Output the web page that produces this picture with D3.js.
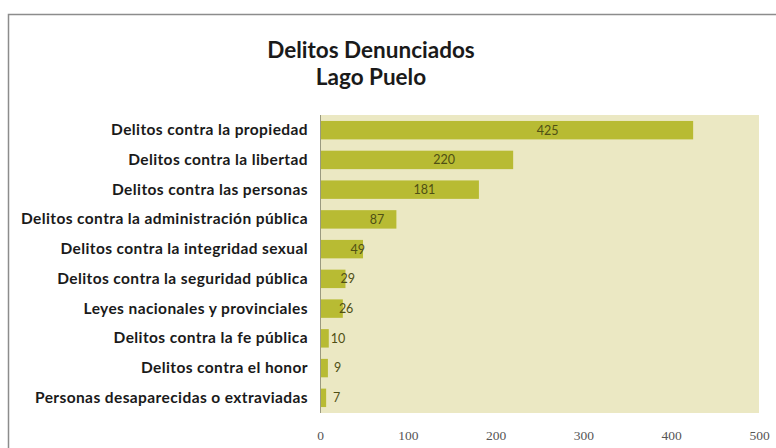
<!DOCTYPE html>
<html>
<head>
<meta charset="utf-8">
<script src="https://cdn.jsdelivr.net/npm/d3@7"></script>
<style>
  body { margin: 0; background: #fff; }
</style>
</head>
<body>
<div class="chart"></div>
<script>
const categories = [
    "Delitos contra la propiedad",
    "Delitos contra la libertad",
    "Delitos contra las personas",
    "Delitos contra la administración pública",
    "Delitos contra la integridad sexual",
    "Delitos contra la seguridad pública",
    "Leyes nacionales y provinciales",
    "Delitos contra la fe pública",
    "Delitos contra el honor",
    "Personas desaparecidas o extraviadas"
];
const values = [425, 220, 181, 87, 49, 29, 26, 10, 9, 7];
const xTicks = [0, 100, 200, 300, 400, 500];
const titleLines = ["Delitos Denunciados", "Lago Puelo"];

const width = 776, height = 448;
const plot = { left: 320, right: 759, top: 115, bottom: 413 };

let svg = d3.select(".chart").append("svg")
    .attr("width", width)
    .attr("height", height);

// chart border
svg.append("rect")
    .attr("x", 8.5).attr("y", 14.5)
    .attr("width", width + 10).attr("height", height + 10)
    .attr("fill", "#fff")
    .attr("stroke", "#8c8c8c")
    .attr("stroke-width", 1.5);

let x = d3.scaleLinear().domain([0, 500]).range([plot.left, plot.right]);
let y = d3.scaleBand().domain(categories).range([plot.top, plot.bottom]).paddingInner(0.38).paddingOuter(0.2);

// plot background
svg.append("rect")
    .attr("x", plot.left).attr("y", plot.top)
    .attr("width", plot.right - plot.left).attr("height", plot.bottom - plot.top)
    .attr("fill", "#ebe8c3");

// title
svg.append("g").selectAll("text").data(titleLines).enter()
    .append("text")
        .attr("x", 371)
        .attr("y", function (d, i) { return 58 + i * 27; })
        .attr("text-anchor", "middle")
        .attr("font-family", "Lato, 'Open Sans', sans-serif")
        .attr("font-weight", "bold")
        .attr("font-size", "22.5px")
        .attr("fill", "#1a1a1a")
        .text(function (d) { return d; });

// bars
svg.append("g").selectAll("rect").data(values).enter()
    .append("rect")
        .attr("x", x(0))
        .attr("y", function (d, i) { return y(categories[i]); })
        .attr("width", function (d) { return x(d) - x(0); })
        .attr("height", y.bandwidth())
        .attr("fill", "#b8bb33");

// left axis line
svg.append("line")
    .attr("x1", plot.left + 0.5).attr("x2", plot.left + 0.5)
    .attr("y1", plot.top).attr("y2", plot.bottom)
    .attr("stroke", "#9a9a80");

// data labels
svg.append("g").selectAll("text").data(values).enter()
    .append("text")
        .attr("x", function (d) { return x(0) + 13 + (x(d) - x(0)) * 0.575; })
        .attr("y", function (d, i) { return y(categories[i]) + y.bandwidth() / 2; })
        .attr("dy", "0.35em")
        .attr("text-anchor", "middle")
        .attr("font-family", "Lato, sans-serif")
        .attr("font-size", "12.5px")
        .attr("fill", "#4f4f14")
        .text(function (d) { return d; });

// category labels
let leftAxis = d3.axisLeft(y).tickSize(0).tickPadding(12);
let gy = svg.append("g")
    .attr("transform", "translate(" + plot.left + ",0)")
    .call(leftAxis);
gy.select(".domain").remove();
gy.selectAll("text")
    .attr("font-family", "Lato, sans-serif")
    .attr("font-weight", "bold")
    .attr("font-size", "15.5px")
    .attr("letter-spacing", "0.4px")
    .attr("fill", "#1a1a1a");

// bottom tick labels
let bottomAxis = d3.axisBottom(x).tickValues(xTicks).tickSize(0).tickPadding(17);
let gx = svg.append("g")
    .attr("transform", "translate(0," + plot.bottom + ")")
    .call(bottomAxis);
gx.select(".domain").remove();
gx.selectAll("text")
    .attr("font-family", "'Liberation Serif', serif")
    .attr("font-size", "13.5px")
    .attr("fill", "#555");
</script>
</body>
</html>
